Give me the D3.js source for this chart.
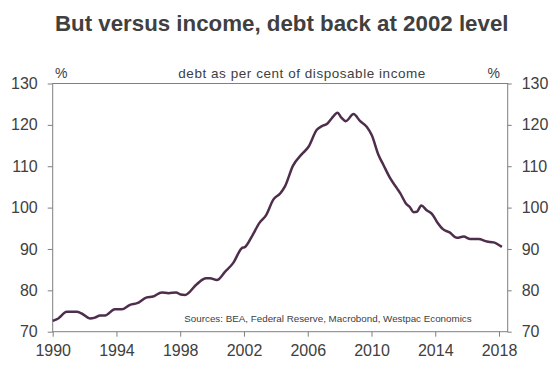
<!DOCTYPE html>
<html>
<head>
<meta charset="utf-8">
<script src="https://cdn.jsdelivr.net/npm/d3@7"></script>
<style>
  body { margin: 0; background: #fff; }
  svg { display: block; font-family: "Liberation Sans", Arial, sans-serif; }
</style>
</head>
<body>
<div id="chart"></div>
<script>
// Household debt as % of disposable income
const years = [
  1990.0, 1990.35, 1990.88, 1991.5, 1991.82, 1992.34, 1992.65, 1992.97, 1993.28, 1993.9,
  1994.33, 1994.85, 1995.3, 1995.9, 1996.3, 1996.84, 1997.26, 1997.74, 1998.03, 1998.3,
  1999.04, 1999.62, 1999.87, 2000.3, 2000.82, 2001.34, 2001.86, 2002.07, 2002.49, 2002.97,
  2003.39, 2003.85, 2004.27, 2004.58, 2005.07, 2005.6, 2006.05, 2006.57, 2006.89, 2007.2,
  2007.51, 2007.87, 2008.1, 2008.39, 2008.87, 2009.29, 2009.71, 2010.02, 2010.44, 2010.75,
  2011.17, 2011.59, 2011.8, 2012.18, 2012.39, 2012.64, 2012.85, 2013.12, 2013.48, 2013.79,
  2014.1, 2014.48, 2014.9, 2015.36, 2015.78, 2016.2, 2016.72, 2017.24, 2017.66, 2018.18
];
const debt = [
  72.6, 73.2, 74.8, 74.8, 74.4, 73.2, 73.4, 73.9, 73.9, 75.4,
  75.4, 76.5, 76.9, 78.3, 78.5, 79.5, 79.3, 79.5, 79.0, 78.9,
  81.5, 82.9, 82.9, 82.5, 84.5, 86.7, 90.2, 90.5, 93.0, 96.3,
  98.2, 102.0, 103.4, 105.2, 110.1, 112.8, 114.7, 118.8, 119.7, 120.2,
  121.6, 122.9, 121.8, 120.9, 122.6, 120.9, 119.5, 117.5, 112.7, 110.3,
  107.1, 104.7, 103.5, 100.9, 100.2, 98.9, 99.0, 100.5, 99.3, 98.5,
  96.6, 94.8, 94.0, 92.7, 93.0, 92.4, 92.4, 91.8, 91.6, 90.5
];
const xTicks = [1990, 1994, 1998, 2002, 2006, 2010, 2014, 2018];
const yTicks = [70, 80, 90, 100, 110, 120, 130];

const W = 558, H = 378;
const margin = { top: 83.5, right: 50.3, bottom: 46.3, left: 52.7 };
const innerW = W - margin.left - margin.right;
const innerH = H - margin.top - margin.bottom;
const txt = '#404040';
const axisCol = '#7f7f7f';

const svg = d3.select('#chart').append('svg')
  .attr('width', W)
  .attr('height', H);

svg.append('text')
  .attr('x', 281.7)
  .attr('y', 31)
  .attr('text-anchor', 'middle')
  .style('font-size', '22.3px')
  .style('font-weight', 'bold')
  .style('fill', txt)
  .text('But versus income, debt back at 2002 level');

const g = svg.append('g').attr('transform', `translate(${margin.left},${margin.top})`);

const x = d3.scaleLinear().domain([1990, 2018.545]).range([0, innerW]);
const y = d3.scaleLinear().domain([70, 130]).range([innerH, 0]);

function styleAxis(sel) {
  sel.select('.domain').remove();
  sel.selectAll('.tick line').attr('stroke', axisCol);
  sel.selectAll('.tick text')
    .style('font-size', '16px')
    .style('fill', txt)
    .style('font-family', '"Liberation Sans", Arial, sans-serif');
}

// left axis
g.append('g')
  .call(d3.axisLeft(y).tickValues(yTicks).tickSize(5).tickPadding(10))
  .call(styleAxis);

// right axis
g.append('g')
  .attr('transform', `translate(${innerW},0)`)
  .call(d3.axisRight(y).tickValues(yTicks).tickSize(4).tickPadding(10))
  .call(styleAxis);

// bottom axis
g.append('g')
  .attr('transform', `translate(0,${innerH})`)
  .call(d3.axisBottom(x).tickValues(xTicks).tickFormat(d3.format('d')).tickSize(5).tickPadding(7.5))
  .call(styleAxis);

// frame
g.append('rect')
  .attr('width', innerW)
  .attr('height', innerH)
  .attr('fill', 'none')
  .attr('stroke', axisCol)
  .attr('stroke-width', 1);

// line
const line = d3.line()
  .x((d, i) => x(years[i]))
  .y(d => y(d))
  .curve(d3.curveMonotoneX);

g.append('path')
  .datum(debt)
  .attr('fill', 'none')
  .attr('stroke', '#4e2e4c')
  .attr('stroke-width', 2.5)
  .attr('stroke-linejoin', 'round')
  .attr('d', line);

// unit labels
g.append('text')
  .attr('x', 2.3).attr('y', -5.5)
  .style('font-size', '14px').style('fill', txt)
  .text('%');
g.append('text')
  .attr('x', innerW - 7.7).attr('y', -5.5)
  .attr('text-anchor', 'end')
  .style('font-size', '14px').style('fill', txt)
  .text('%');

g.append('text')
  .attr('x', 125.6).attr('y', -5.2)
  .attr('textLength', 247)
  .attr('lengthAdjust', 'spacing')
  .style('font-size', '13.5px').style('fill', txt)
  .text('debt as per cent of disposable income');

g.append('text')
  .attr('x', 275.3).attr('y', innerH - 10)
  .attr('text-anchor', 'middle')
  .style('font-size', '9.8px').style('fill', txt)
  .text('Sources: BEA, Federal Reserve, Macrobond, Westpac Economics');
</script>
</body>
</html>
